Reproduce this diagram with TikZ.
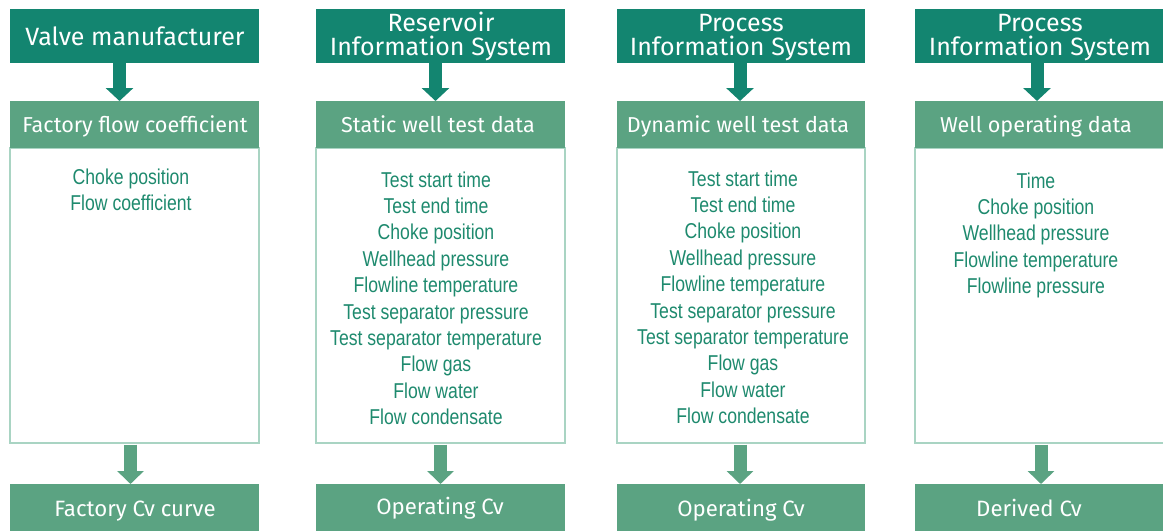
\documentclass[tikz,border=0pt]{standalone}
\usepackage{fontspec}
\usetikzlibrary{arrows.meta}
\newfontfamily\hdfont{Fira Sans}
\newfontfamily\listfont[FakeStretch=0.82]{Liberation Sans}
\definecolor{darkteal}{HTML}{138570}
\definecolor{midgreen}{HTML}{5BA382}
\definecolor{paleline}{HTML}{A9D4C3}
\definecolor{itemtext}{HTML}{1E8A6E}
\tikzset{
  srcbox/.style={fill=darkteal, draw=none, inner sep=0pt},
  hdrbox/.style={fill=midgreen, draw=none, inner sep=0pt},
  bodybox/.style={draw=paleline, line width=1.4pt, fill=white, inner sep=0pt},
  srctext/.style={font=\hdfont\fontsize{25}{25}\selectfont, text=white, anchor=base, inner sep=0pt},
  hdrtext/.style={font=\hdfont\fontsize{21.6}{21.6}\selectfont, text=white, anchor=base, inner sep=0pt},
  restext/.style={font=\hdfont\fontsize{22.2}{22.2}\selectfont, text=white, anchor=base, inner sep=0pt},
  item/.style={font=\listfont\fontsize{21.5}{21.5}\selectfont, text=itemtext, anchor=base, inner sep=0pt},
  srcarrow/.style={draw=darkteal, line width=13pt, -{Triangle[width=27pt,length=13pt]}},
  outarrow/.style={draw=midgreen, line width=13pt, -{Triangle[width=26pt,length=13pt]}},
}
\begin{document}
\begin{tikzpicture}[x=1pt,y=-1pt]
\useasboundingbox (0,0) rectangle (1163,531);
\begin{scope}
\clip (0,0) rectangle (1163,531);

% ---- column boxes: source, header, body, result ----
\foreach \c/\xl/\xr in {1/10/259, 2/316/565, 3/617/865, 4/915/1165} {
  \path[srcbox] (\xl,9) rectangle (\xr,63) node[pos=.5] (src\c) {};
  \draw[bodybox] (\xl,148) rectangle (\xr,443) node[pos=.5] (body\c) {};
  \path[hdrbox] (\xl,101) rectangle (\xr,148) node[pos=.5] (hdr\c) {};
  \path[hdrbox] (\xl,484) rectangle (\xr,531) node[pos=.5] (res\c) {};
  \coordinate (srcS\c) at (\xl/2+\xr/2,63);
  \coordinate (hdrN\c) at (\xl/2+\xr/2,101);
  \coordinate (bodyS\c) at (\xl/2+\xr/2,444.5);
  \coordinate (resN\c) at (\xl/2+\xr/2,484);
}

% ---- source labels ----
\node[srctext] (s1) at (135,45) {Valve manufacturer};
\node[srctext] (s2a) at (441,31) {Reservoir};
\node[srctext] (s2b) at (441,55) {Information System};
\node[srctext] (s3a) at (741,31) {Process};
\node[srctext] (s3b) at (741,55) {Information System};
\node[srctext] (s4a) at (1040,31) {Process};
\node[srctext] (s4b) at (1040,55) {Information System};

% ---- header labels ----
\node[hdrtext] (h1) at (135,132) {Factory flow coefficient};
\node[hdrtext] (h2) at (438,132) {Static well test data};
\node[hdrtext] (h3) at (738,132) {Dynamic well test data};
\node[hdrtext] (h4) at (1036,132) {Well operating data};

% ---- result labels ----
\node[restext] (r1) at (135,516) {Factory Cv curve};
\node[restext] (r2) at (440,514) {Operating Cv};
\node[restext] (r3) at (741,516) {Operating Cv};
\node[restext] (r4) at (1029,516) {Derived Cv};

% ---- data items ----
\foreach \t [count=\i from 0] in {Choke position, Flow coefficient}
  \node[item] (a\i) at (131,184+26.4*\i) {\t};
\foreach \t [count=\i from 0] in {Test start time, Test end time, Choke position,
    Wellhead pressure, Flowline temperature, Test separator pressure,
    Test separator temperature, Flow gas, Flow water, Flow condensate}
  \node[item] (b\i) at (436,187+26.4*\i) {\t};
\foreach \t [count=\i from 0] in {Test start time, Test end time, Choke position,
    Wellhead pressure, Flowline temperature, Test separator pressure,
    Test separator temperature, Flow gas, Flow water, Flow condensate}
  \node[item] (c\i) at (743,186+26.4*\i) {\t};
\foreach \t [count=\i from 0] in {Time, Choke position, Wellhead pressure,
    Flowline temperature, Flowline pressure}
  \node[item] (d\i) at (1036,188+26.4*\i) {\t};

% ---- block arrows ----
\draw[srcarrow] ([xshift=-15pt]srcS1) -- ([xshift=-15pt]hdrN1);
\draw[srcarrow] ([xshift=-5pt]srcS2) -- ([xshift=-5pt]hdrN2);
\draw[srcarrow] ([xshift=-1pt]srcS3) -- ([xshift=-1pt]hdrN3);
\draw[srcarrow] ([xshift=-3pt]srcS4) -- ([xshift=-3pt]hdrN4);
\draw[outarrow] ([xshift=-4pt]bodyS1) -- ([xshift=-4pt]resN1);
\draw[outarrow] ([xshift=0pt]bodyS2) -- ([xshift=0pt]resN2);
\draw[outarrow] ([xshift=-1pt]bodyS3) -- ([xshift=-1pt]resN3);
\draw[outarrow] ([xshift=1pt]bodyS4) -- ([xshift=1pt]resN4);
\end{scope}
\end{tikzpicture}
\end{document}
